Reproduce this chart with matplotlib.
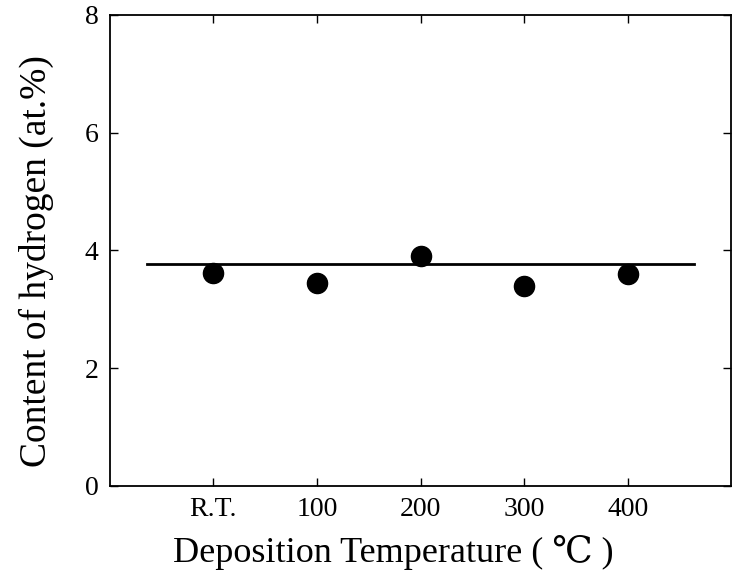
import matplotlib
matplotlib.use("Agg")
import matplotlib.pyplot as plt

# data
temps = ["R.T.", "100", "200", "300", "400"]
hydrogen = [3.62, 3.45, 3.90, 3.40, 3.60]
fit_level = 3.77
fit_span = [-0.64, 4.64]

plt.rcParams["font.family"] = ["Liberation Serif", "DejaVu Serif", "Noto Sans CJK JP", "DejaVu Sans"]

fig = plt.figure(figsize=(7.32, 5.73), dpi=100)
ax = fig.add_axes([0.150, 0.152, 0.849, 0.822])

x = list(range(len(temps)))
ax.plot(fit_span, [fit_level, fit_level], color="black", lw=2)
ax.plot(x, hydrogen, "o", color="black", markersize=14.5, zorder=3)

ax.set_xlim(-1, 5)
ax.set_ylim(0, 8)
ax.set_xticks(x)
ax.set_xticklabels(temps)
ax.set_yticks([0, 2, 4, 6, 8])

ax.tick_params(direction="in", length=6, width=1, labelsize=20,
               top=True, right=True, pad=8)
for s in ax.spines.values():
    s.set_linewidth(1.3)

ax.set_xlabel("Deposition Temperature ( \u2103 )", fontsize=26)
ax.set_ylabel("Content of hydrogen (at.%)", fontsize=27)
ax.xaxis.set_label_coords(0.456, -0.105)
ax.yaxis.set_label_coords(-0.09, 0.478)

fig.savefig("out.png", dpi=100)
